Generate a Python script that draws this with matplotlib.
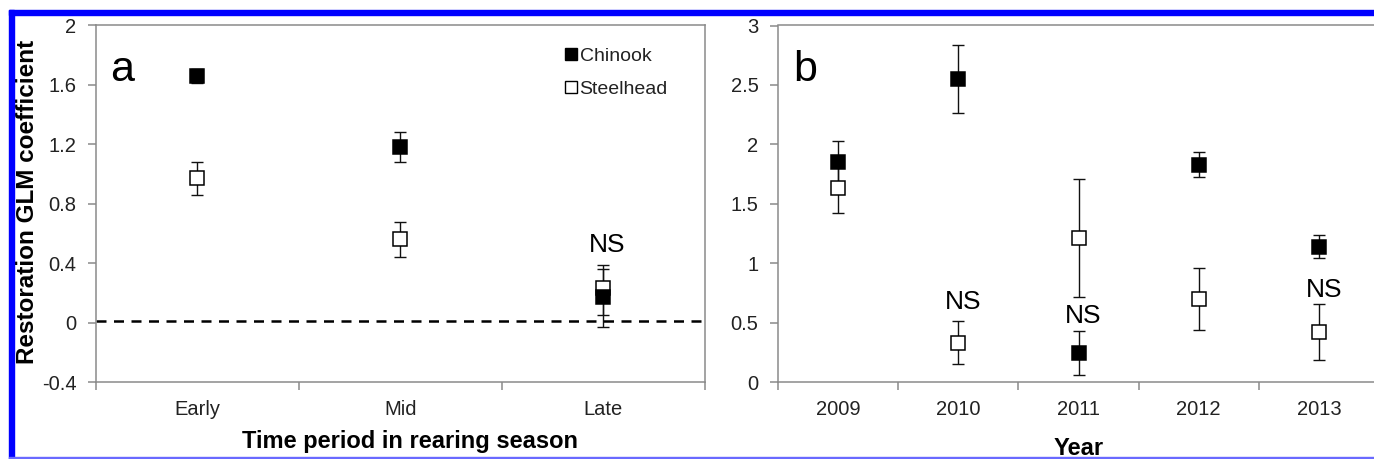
import matplotlib
matplotlib.use("Agg")
import matplotlib.pyplot as plt
from matplotlib.lines import Line2D
from matplotlib.patches import Rectangle

plt.rcParams['font.family'] = ['Liberation Sans', 'DejaVu Sans']

# ---------------- data ----------------
periods = ["Early", "Mid", "Late"]
chinook_a = [1.66, 1.18, 0.17]
chinook_a_lo = [1.61, 1.08, -0.03]
chinook_a_hi = [1.71, 1.28, 0.36]
steel_a = [0.97, 0.56, 0.235]
steel_a_lo = [0.86, 0.44, 0.05]
steel_a_hi = [1.08, 0.68, 0.385]
ns_a = [(2, 0.52)]
ref_line = 0.01

years = ["2009", "2010", "2011", "2012", "2013"]
chinook_b = [1.85, 2.55, 0.24, 1.83, 1.14]
chinook_b_err = [0.18, 0.285, 0.185, 0.105, 0.10]
steel_b = [1.63, 0.33, 1.21, 0.70, 0.42]
steel_b_err = [0.21, 0.18, 0.495, 0.26, 0.235]
ns_b = [(1, 0.67), (2, 0.555), (4, 0.77)]

yticks_a = [-0.4, 0, 0.4, 0.8, 1.2, 1.6, 2]
yticklabels_a = ["-0.4", "0", "0.4", "0.8", "1.2", "1.6", "2"]
yticks_b = [0, 0.5, 1, 1.5, 2, 2.5, 3]
yticklabels_b = ["0", "0.5", "1", "1.5", "2", "2.5", "3"]

# ---------------- figure ----------------
W, H = 1374, 459
fig = plt.figure(figsize=(W / 100, H / 100), dpi=100)

spine_col = "#8a8a8a"
ms = 9.5


def style_axes(ax, n):
    for s in ax.spines.values():
        s.set_color(spine_col)
        s.set_linewidth(1.1)
    ax.set_xlim(-0.5, n - 0.5)
    ax.set_xticks(range(n))
    ax.set_xticks([i - 0.5 for i in range(n + 1)], minor=True)
    ax.tick_params(axis='x', which='major', length=0, pad=13, labelsize=14.5,
                   labelcolor="#222222")
    ax.tick_params(axis='x', which='minor', length=6, width=1.1, color=spine_col,
                   direction='out')
    ax.tick_params(axis='y', which='major', length=6, width=1.1, color=spine_col,
                   direction='out', pad=8, labelsize=14.5, labelcolor="#222222")


def draw_series(ax, x, y, lo, hi, filled):
    yerr = [[yy - l for yy, l in zip(y, lo)], [h - yy for yy, h in zip(y, hi)]]
    ax.errorbar(x, y, yerr=yerr, fmt='none', ecolor='#111111', elinewidth=1.0,
                capsize=4.3, capthick=1.0, zorder=2)
    ax.plot(x, y, linestyle='none', marker='s', markersize=ms,
            markerfacecolor='black' if filled else 'white',
            markeredgecolor='black', markeredgewidth=1.1, zorder=3)


# Panel a
axa = fig.add_axes([96 / W, 1 - 382 / H, 609 / W, 356.5 / H])
style_axes(axa, len(periods))
xa = list(range(len(periods)))
axa.axhline(ref_line, color='black', lw=1.8, linestyle=(0, (4.0, 3.0)), zorder=1)
draw_series(axa, xa, steel_a, steel_a_lo, steel_a_hi, False)
draw_series(axa, xa, chinook_a, chinook_a_lo, chinook_a_hi, True)
axa.set_ylim(-0.4, 2)
axa.set_yticks(yticks_a)
axa.set_yticklabels(yticklabels_a)
axa.set_xticklabels(periods)
axa.set_ylabel("Restoration GLM coefficient", fontsize=17.5, fontweight='bold',
               va='center')
axa.yaxis.set_label_coords(-0.113, 0.505)
axa.set_xlabel("Time period in rearing season", fontsize=17, fontweight='bold')
axa.xaxis.set_label_coords(0.515, -0.166)
axa.xaxis.label.set_va('center')
for (xi, yi) in ns_a:
    axa.text(xi + 0.02, yi, "NS", fontsize=19, ha='center', va='center')
axa.text(0.024, 0.845, "a", transform=axa.transAxes, fontsize=31,
         ha='left', va='baseline')
handles = [Line2D([], [], linestyle='none', marker='s', markersize=8,
                  markerfacecolor='black', markeredgecolor='black'),
           Line2D([], [], linestyle='none', marker='s', markersize=8,
                  markerfacecolor='white', markeredgecolor='black',
                  markeredgewidth=1.0)]
axa.legend(handles, ["Chinook", "Steelhead"], loc='upper left',
           bbox_to_anchor=(0.77, 0.94), frameon=False, fontsize=14,
           handlelength=0.6, handletextpad=0.15, borderpad=0, borderaxespad=0,
           labelspacing=0.8, labelcolor="#222222")

# Panel b
axb = fig.add_axes([778 / W, 1 - 382 / H, 601 / W, 356.5 / H])
style_axes(axb, len(years))
xb = list(range(len(years)))
draw_series(axb, xb, steel_b, [v - e for v, e in zip(steel_b, steel_b_err)],
            [v + e for v, e in zip(steel_b, steel_b_err)], False)
draw_series(axb, xb, chinook_b, [v - e for v, e in zip(chinook_b, chinook_b_err)],
            [v + e for v, e in zip(chinook_b, chinook_b_err)], True)
axb.set_ylim(0, 3)
axb.set_yticks(yticks_b)
axb.set_yticklabels(yticklabels_b)
axb.set_xticklabels(years)
axb.set_xlabel("Year", fontsize=17, fontweight='bold')
axb.xaxis.set_label_coords(0.5, -0.205)
axb.xaxis.label.set_va('baseline')
for (xi, yi) in ns_b:
    axb.text(xi + 0.04, yi, "NS", fontsize=19, ha='center', va='center')
axb.text(0.026, 0.845, "b", transform=axb.transAxes, fontsize=31,
         ha='left', va='baseline')

# Blue frame
fig.patches.append(Rectangle((9 / W, 1 - 15 / H), 1 - 9 / W, 5 / H,
                             transform=fig.transFigure, color='#0000ff', zorder=10))
fig.patches.append(Rectangle((9 / W, 0), 5 / W, 1 - 10 / H,
                             transform=fig.transFigure, color='#0000ff', zorder=10))
fig.patches.append(Rectangle((9 / W, 0.5 / H), 1 - 9 / W, 1.5 / H,
                             transform=fig.transFigure, color='#6a6aff', zorder=10))

fig.savefig("out.png", dpi=100)
